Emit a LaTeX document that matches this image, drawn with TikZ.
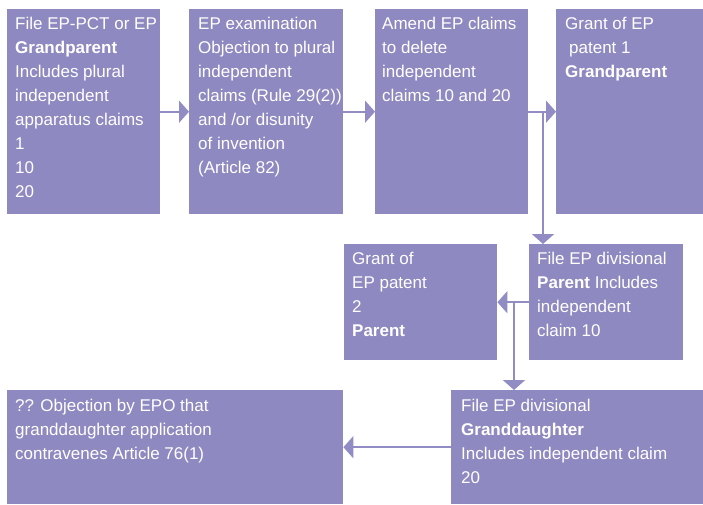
\documentclass[tikz,border=0pt]{standalone}
\usepackage{fontspec}
\setmainfont{Liberation Sans}
\usetikzlibrary{arrows.meta}
\definecolor{boxfill}{RGB}{142,137,192}
\definecolor{linkcol}{RGB}{145,140,196}
\tikzset{
  stepbox/.style={fill=boxfill, draw=none, inner sep=0pt, anchor=north west},
  boxtext/.style={text=white, anchor=north west, inner sep=0pt, align=left,
    font=\fontsize{17}{24}\selectfont},
  link/.style={draw=linkcol, line width=2pt,
    -{Triangle[length=10pt,width=22pt]}}
}
\begin{document}
\begin{tikzpicture}[x=1pt,y=-1pt]
\useasboundingbox (0,0) rectangle (703,504);

% boxes (pixel-style coordinates, y grows downwards)
\node[stepbox, minimum width=153pt, minimum height=205pt] (b1) at (7,9) {};
\node[stepbox, minimum width=154pt, minimum height=205pt] (b2) at (189,9) {};
\node[stepbox, minimum width=153pt, minimum height=205pt] (b3) at (375,9) {};
\node[stepbox, minimum width=147pt, minimum height=205pt] (b4) at (556,9) {};
\node[stepbox, minimum width=154pt, minimum height=116pt] (b5) at (529,244) {};
\node[stepbox, minimum width=153pt, minimum height=116pt] (b6) at (344,244) {};
\node[stepbox, minimum width=252pt, minimum height=114pt] (b7) at (451,390) {};
\node[stepbox, minimum width=336pt, minimum height=114pt] (b8) at (7,390) {};

% box texts
\node[boxtext] (t1) at ([shift={(8,3)}]b1.north west)
  {\strut File EP-PCT or EP\\\textbf{Grandparent}\\Includes plural\\independent\\apparatus claims\\1\\10\\20};
\node[boxtext] (t2) at ([shift={(9,3)}]b2.north west)
  {\strut EP examination\\Objection to plural\\independent\\claims (Rule 29(2))\\and /or disunity\\of invention\\(Article 82)};
\node[boxtext] (t3) at ([shift={(7,3)}]b3.north west)
  {\strut Amend EP claims\\to delete\\independent\\claims 10 and 20};
\node[boxtext] (t4) at ([shift={(9,3)}]b4.north west)
  {\strut Grant of EP\\\hspace*{4pt}patent 1\\\textbf{Grandparent}};
\node[boxtext] (t5) at ([shift={(8,3)}]b5.north west)
  {\strut File EP divisional\\\textbf{Parent} Includes\\independent\\claim 10};
\node[boxtext] (t6) at ([shift={(8,3)}]b6.north west)
  {\strut Grant of\\EP patent\\2\\\textbf{Parent}};
\node[boxtext] (t7) at ([shift={(10,4)}]b7.north west)
  {\strut File EP divisional\\\textbf{Granddaughter}\\Includes independent claim\\20};
\node[boxtext] (t8) at ([shift={(8,4)}]b8.north west)
  {\strut ?? Objection by EPO that\\granddaughter application\\contravenes Article 76(1)};

% connectors
\draw[link] (b1.east) -- (b2.west);
\draw[link] (b2.east) -- (b3.west);
\draw[link] (b3.east) -- (b4.west);
\coordinate (j1) at (543,111.5);
\draw[link] (j1) -- (j1 |- b5.north);
\draw[link] (b5.west) -- (b6.east);
\coordinate (j2) at (514,302);
\draw[link] (j2) -- (j2 |- b7.north);
\draw[link] (b7.west) -- (b8.east);
\end{tikzpicture}
\end{document}
